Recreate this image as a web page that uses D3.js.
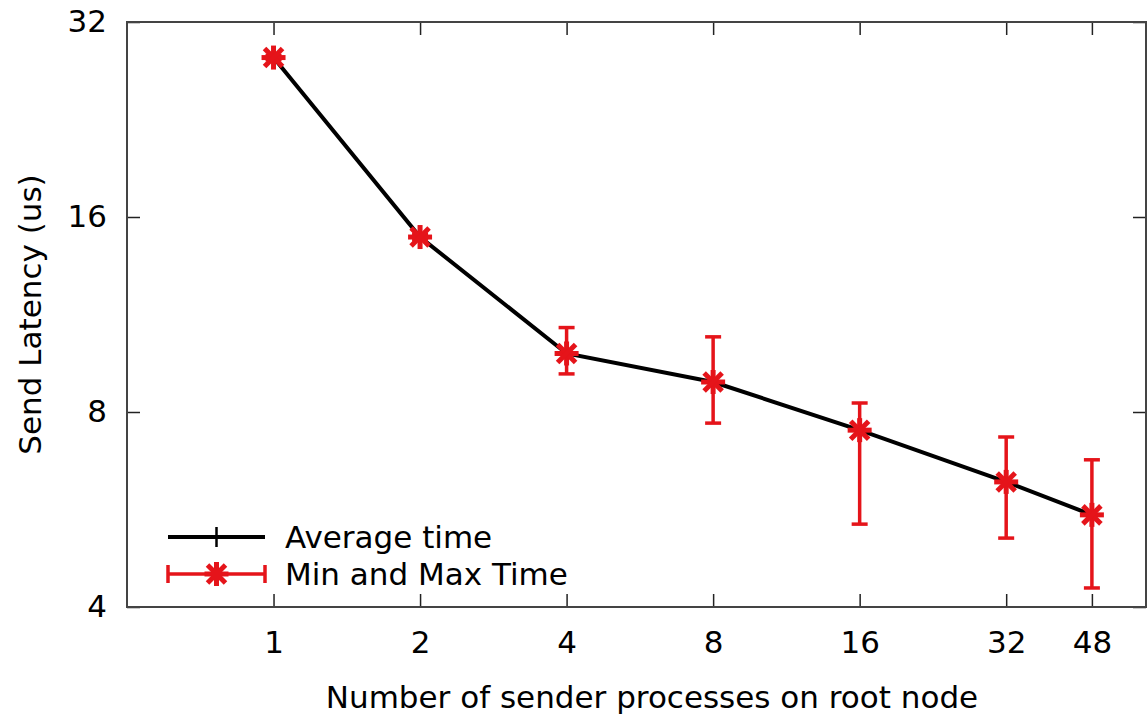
<!DOCTYPE html>
<html><head><meta charset="utf-8">
<script src="https://cdn.jsdelivr.net/npm/d3@7"></script>
<style>html,body{margin:0;padding:0;background:#fff;}svg{display:block;}text{font-family:"DejaVu Sans",sans-serif;fill:#000;}</style>
</head><body>
<svg id="chart" width="1148" height="718"></svg>
<script>
const procs = [1, 2, 4, 8, 16, 32, 48];
const avgTime = [28.2, 14.9, 9.85, 8.9, 7.5, 6.24, 5.55];
const minTime = [28.0, 14.75, 9.16, 7.69, 5.37, 5.11, 4.28];
const maxTime = [28.4, 15.05, 10.8, 10.45, 8.26, 7.32, 6.75];
const xTicks = [1, 2, 4, 8, 16, 32, 48];
const yTicks = [4, 8, 16, 32];
const seriesNames = ["Average time", "Min and Max Time"];

const W = 1148, H = 718;
const m = {left: 127, right: 1146, top: 22, bottom: 607};
const RED = "#e5141a";
const svg = d3.select("#chart");

const x = d3.scaleLog().base(2).domain([0.5, 62]).range([m.left, m.right]);
const y = d3.scaleLog().base(2).domain([4, 32]).range([m.bottom, m.top]);

const fs = 31;
const tl = 13;
const gx = svg.append("g").attr("transform", `translate(0,${m.bottom})`)
  .call(d3.axisBottom(x).tickValues(xTicks).tickFormat(d3.format("d")).tickSize(-tl).tickPadding(24));
const gxt = svg.append("g").attr("transform", `translate(0,${m.top})`)
  .call(d3.axisTop(x).tickValues(xTicks).tickFormat("").tickSize(-tl));
const gy = svg.append("g").attr("transform", `translate(${m.left},0)`)
  .call(d3.axisLeft(y).tickValues(yTicks).tickFormat(d3.format("d")).tickSize(-tl).tickPadding(20));
const gyr = svg.append("g").attr("transform", `translate(${m.right},0)`)
  .call(d3.axisRight(y).tickValues(yTicks).tickFormat("").tickSize(-tl));
[gx, gxt, gy, gyr].forEach(g => {
  g.select(".domain").remove();
  g.selectAll(".tick line").attr("stroke", "#222").attr("stroke-width", 1.5);
  g.selectAll("text").attr("font-size", fs).attr("font-family", "DejaVu Sans").attr("fill", "#000");
});
svg.append("rect").attr("x", m.left).attr("y", m.top).attr("width", m.right - m.left).attr("height", m.bottom - m.top)
  .attr("fill", "none").attr("stroke", "#444").attr("stroke-width", 2);

// average line
const line = d3.line().x((d, i) => x(procs[i])).y(d => y(d));
svg.append("path").datum(avgTime).attr("d", line).attr("fill", "none").attr("stroke", "#000").attr("stroke-width", 4);

// error bars
const cap = 8;
const eb = svg.append("g").attr("stroke", RED).attr("stroke-width", 3.5);
procs.forEach((p, i) => {
  const cx = x(p);
  eb.append("line").attr("x1", cx).attr("x2", cx).attr("y1", y(minTime[i])).attr("y2", y(maxTime[i]));
  eb.append("line").attr("x1", cx - cap).attr("x2", cx + cap).attr("y1", y(minTime[i])).attr("y2", y(minTime[i]));
  eb.append("line").attr("x1", cx - cap).attr("x2", cx + cap).attr("y1", y(maxTime[i])).attr("y2", y(maxTime[i]));
});

function star(g, cx, cy, r) {
  const s = g.append("g").attr("stroke", RED).attr("stroke-width", 5);
  s.append("line").attr("x1", cx - r).attr("x2", cx + r).attr("y1", cy).attr("y2", cy);
  s.append("line").attr("x1", cx).attr("x2", cx).attr("y1", cy - r).attr("y2", cy + r);
  s.append("line").attr("x1", cx - r * 0.75).attr("x2", cx + r * 0.75).attr("y1", cy - r * 0.75).attr("y2", cy + r * 0.75);
  s.append("line").attr("x1", cx - r * 0.75).attr("x2", cx + r * 0.75).attr("y1", cy + r * 0.75).attr("y2", cy - r * 0.75);
}
procs.forEach((p, i) => star(svg, x(p), y(avgTime[i]), 12));

// legend
const lg = svg.append("g");
const lx1 = 168, lx2 = 265, lmid = (lx1 + lx2) / 2;
const ly1 = 537, ly2 = 574;
lg.append("line").attr("x1", lx1).attr("x2", lx2).attr("y1", ly1).attr("y2", ly1).attr("stroke", "#000").attr("stroke-width", 4);
lg.append("line").attr("x1", lmid).attr("x2", lmid).attr("y1", ly1 - 10).attr("y2", ly1 + 10).attr("stroke", "#000").attr("stroke-width", 2.5);
lg.append("line").attr("x1", lx1).attr("x2", lx2).attr("y1", ly2).attr("y2", ly2).attr("stroke", RED).attr("stroke-width", 3.5);
lg.append("line").attr("x1", lx1).attr("x2", lx1).attr("y1", ly2 - 9).attr("y2", ly2 + 9).attr("stroke", RED).attr("stroke-width", 3.5);
lg.append("line").attr("x1", lx2).attr("x2", lx2).attr("y1", ly2 - 9).attr("y2", ly2 + 9).attr("stroke", RED).attr("stroke-width", 3.5);
star(lg, lmid, ly2, 12);
lg.append("text").attr("x", 285).attr("y", ly1).attr("dy", "0.35em").attr("font-size", fs).text(seriesNames[0]);
lg.append("text").attr("x", 285).attr("y", ly2).attr("dy", "0.35em").attr("font-size", fs).text(seriesNames[1]);

// axis titles
svg.append("text").attr("x", 652).attr("y", 697).attr("dy", "0.35em")
  .attr("text-anchor", "middle").attr("font-size", fs).text("Number of sender processes on root node");
svg.append("text").attr("transform", `translate(30,${(m.top + m.bottom) / 2}) rotate(-90)`).attr("dy", "0.35em")
  .attr("text-anchor", "middle").attr("font-size", fs).text("Send Latency (us)");
</script>
</body></html>
